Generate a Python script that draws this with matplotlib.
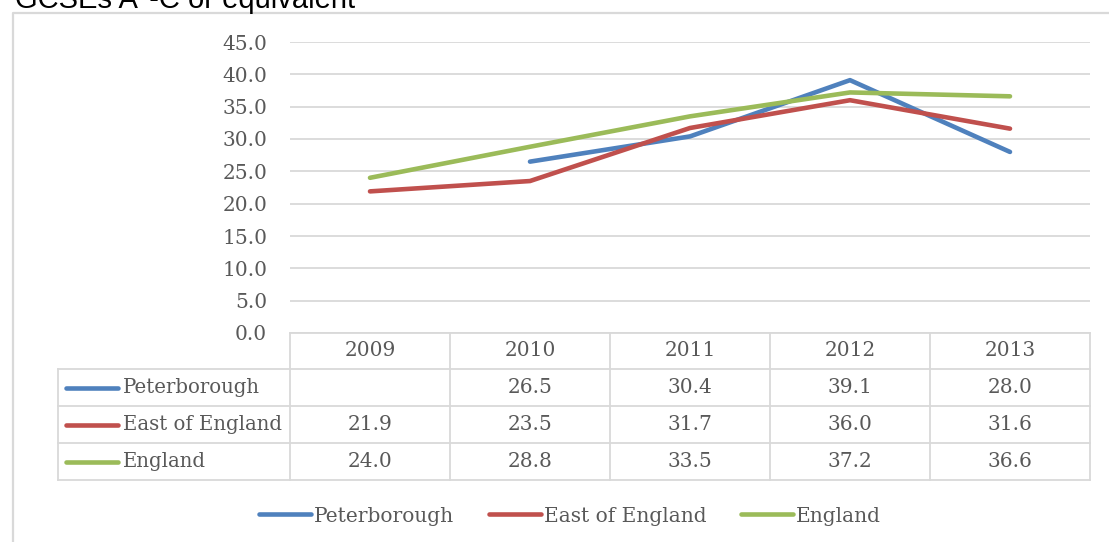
import matplotlib
matplotlib.use("Agg")
import matplotlib.pyplot as plt
import numpy as np

# GCSE A*-C (or equivalent) attainment, %
years = ["2009", "2010", "2011", "2012", "2013"]
series_names = ["Peterborough", "East of England", "England"]
peterborough = [np.nan, 26.5, 30.4, 39.1, 28.0]
east_of_england = [21.9, 23.5, 31.7, 36.0, 31.6]
england = [24.0, 28.8, 33.5, 37.2, 36.6]
y_ticks = [0, 5, 10, 15, 20, 25, 30, 35, 40, 45]

colors = ["#4F81BD", "#C0504D", "#9BBB59"]
grid_col = "#D9D9D9"
text_col = "#595959"
serif = "DejaVu Serif"
fs = 14.5

W, H = 1109, 542
fig = plt.figure(figsize=(W / 100, H / 100), dpi=100)

# overlay in pixel coordinates for frame, title and data table
ov = fig.add_axes([0, 0, 1, 1], zorder=0)
ov.set_xlim(0, W)
ov.set_ylim(H, 0)
ov.axis("off")

# chart frame (continues past the right and bottom edges)
ov.plot([13, 13, W + 5], [H + 5, 13, 13], color=grid_col, lw=1.6, solid_capstyle="butt")
ov.text(15, 8, "GCSEs A*-C or equivalent", family="Liberation Sans", fontsize=21,
        color="black", va="baseline", ha="left")

# main plot area
px_left, px_right, px_top, px_bottom = 290, 1090, 42, 333
ax = fig.add_axes([px_left / W, 1 - px_bottom / H, (px_right - px_left) / W,
                   (px_bottom - px_top) / H], zorder=2)
ax.patch.set_alpha(0)
x = np.arange(len(years)) + 0.5
all_series = [peterborough, east_of_england, england]
for vals, name, c in zip(all_series, series_names, colors):
    ax.plot(x, vals, color=c, lw=3.3, solid_capstyle="round", solid_joinstyle="round",
            label=name)
ax.set_xlim(0, len(years))
ax.set_ylim(0, 45)
ax.set_yticks(y_ticks)
ax.set_yticklabels([f"{t:.1f}" for t in y_ticks], family=serif, fontsize=fs, color=text_col)
ax.tick_params(axis="y", length=0, pad=16.5)
ax.set_xticks([])
ax.yaxis.grid(True, color=grid_col, lw=1.3)
ax.set_axisbelow(True)
for s in ax.spines.values():
    s.set_visible(False)

# data table under the plot
col_w = (px_right - px_left) / len(years)
col_edges = [px_left + i * col_w for i in range(len(years) + 1)]
tbl_left = 58
row_edges = [333, 369, 406, 443, 480]
lw_t = 1.3
ov.plot([px_left, px_right], [row_edges[0]] * 2, color=grid_col, lw=lw_t)
for yy in row_edges[1:]:
    ov.plot([tbl_left, px_right], [yy, yy], color=grid_col, lw=lw_t)
for xx in col_edges:
    ov.plot([xx, xx], [row_edges[0], row_edges[-1]], color=grid_col, lw=lw_t)
ov.plot([tbl_left, tbl_left], [row_edges[1], row_edges[-1]], color=grid_col, lw=lw_t)

hdr_y = (row_edges[0] + row_edges[1]) / 2
for i, yr in enumerate(years):
    ov.text((col_edges[i] + col_edges[i + 1]) / 2, hdr_y, yr, family=serif, fontsize=fs,
            color=text_col, ha="center", va="center")
for r, (vals, name, c) in enumerate(zip(all_series, series_names, colors)):
    cy = (row_edges[r + 1] + row_edges[r + 2]) / 2
    ov.plot([66, 118], [cy, cy], color=c, lw=3.3, solid_capstyle="round")
    ov.text(123, cy, name, family=serif, fontsize=14.2, color=text_col, ha="left", va="center")
    for i, v in enumerate(vals):
        if np.isnan(v):
            continue
        ov.text((col_edges[i] + col_edges[i + 1]) / 2, cy, f"{v:.1f}", family=serif,
                fontsize=fs, color=text_col, ha="center", va="center")

# legend along the bottom
handles, labels = ax.get_legend_handles_labels()
leg = fig.legend(handles, labels, loc="center", bbox_to_anchor=(570 / W, 1 - 516 / H),
                 ncol=3, frameon=False, prop={"family": serif, "size": fs},
                 handlelength=2.6, handletextpad=0.15, columnspacing=1.7)
for t in leg.get_texts():
    t.set_color(text_col)

fig.savefig("out.png", dpi=100)
